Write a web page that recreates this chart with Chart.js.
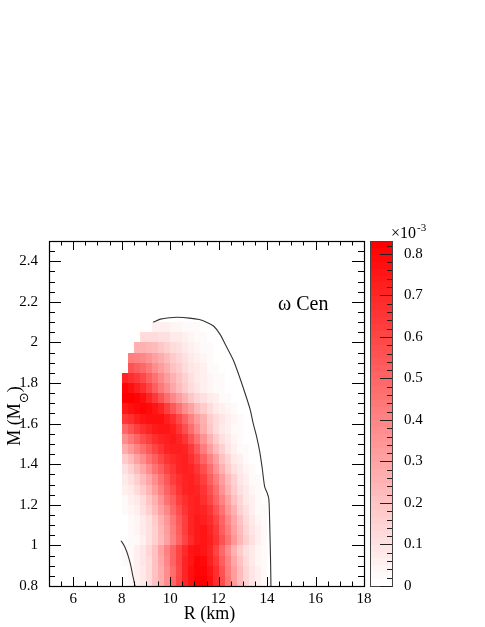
<!DOCTYPE html>
<html>
<head>
<meta charset="utf-8">
<script src="https://cdn.jsdelivr.net/npm/chart.js@4.4.0/dist/chart.umd.min.js"></script>
<style>
  html, body { margin: 0; padding: 0; background: #fff; }
  #caixa { width: 485px; height: 627px; position: relative; }
</style>
</head>
<body>
<div id="caixa"><canvas id="grafico"></canvas></div>
<script>
// bordas dos bins do histograma
const binsR = [8, 8.25, 8.5, 8.75, 9, 9.25, 9.5, 9.75, 10, 10.25, 10.5, 10.75, 11, 11.25, 11.5, 11.75, 12, 12.25, 12.5, 12.75, 13, 13.25, 13.5, 13.75, 14];
const binsM = [0.8, 0.85, 0.9, 0.95, 1.0, 1.05, 1.1, 1.15, 1.2, 1.25, 1.3, 1.35, 1.4, 1.45, 1.5, 1.55, 1.6, 1.65, 1.7, 1.75, 1.8, 1.85, 1.9, 1.95, 2.0, 2.05, 2.1];

// probabilidade (x 1e-5), uma linha por bin de M, de baixo pra cima
const densidade = [
  [1,3,5,8,13,20,28,38,49,60,71,78,82,82,77,68,57,44,32,22,14,9,5,3],
  [1,3,5,8,13,20,28,38,48,59,70,77,81,81,76,67,56,43,32,22,14,9,5,3],
  [2,3,5,9,13,20,29,39,50,60,70,76,80,79,73,64,52,40,29,20,13,8,4,2],
  [2,3,6,9,14,21,30,40,51,61,69,76,78,76,70,60,49,37,26,18,11,7,4,2],
  [1,2,3,6,10,15,22,31,41,51,61,69,74,76,73,66,56,45,34,24,16,10,6,3],
  [1,2,4,7,11,16,24,32,42,53,62,70,74,75,71,64,53,42,31,22,14,9,5,3],
  [1,2,4,7,11,17,25,34,44,54,63,70,74,73,69,61,51,39,29,20,13,8,4,2],
  [2,4,6,10,16,22,30,39,49,58,66,71,73,71,65,56,45,34,25,16,10,6,3,2],
  [3,5,8,13,19,26,35,45,53,62,68,71,72,68,61,51,40,30,21,14,8,5,3,1],
  [5,8,12,17,24,32,41,50,58,65,70,72,71,66,57,47,36,26,18,11,7,4,2,1],
  [7,11,16,22,29,37,46,54,62,67,71,72,69,63,53,42,32,22,15,9,5,3,2,1],
  [11,16,22,29,37,45,53,60,66,70,72,71,66,57,47,36,26,18,11,7,4,2,1,0],
  [17,23,30,38,46,53,59,65,69,71,72,68,61,51,40,30,21,14,8,5,3,1,1,0],
  [28,34,41,48,54,61,66,70,72,73,70,64,54,43,32,23,15,9,5,3,2,1,0,0],
  [38,44,51,57,63,67,71,73,74,71,65,56,46,36,26,18,11,7,4,2,1,1,0,0],
  [49,55,62,67,71,74,76,76,73,66,57,47,37,27,19,13,8,5,3,2,1,0,0,0],
  [64,68,72,75,77,78,77,73,67,59,50,41,32,25,18,13,9,6,4,2,1,1,0,0],
  [74,77,79,80,79,76,70,63,54,46,38,30,23,17,12,8,6,4,2,1,1,0,0,0],
  [83,83,81,77,71,64,56,48,39,32,25,19,14,10,7,5,3,2,1,1,0,0,0,0],
  [80,78,73,68,60,53,44,37,29,23,17,13,9,6,4,3,2,1,1,0,0,0,0,0],
  [70,68,64,59,53,46,39,32,26,20,15,11,8,6,4,3,2,1,1,0,0,0,0,0],
  [0,56,53,49,44,38,32,27,21,17,13,9,7,5,3,2,1,1,0,0,0,0,0,0],
  [0,42,41,39,35,31,27,22,18,14,11,8,5,4,2,1,1,0,0,0,0,0,0,0],
  [0,0,26,25,24,22,19,16,13,10,8,6,4,3,2,1,0,0,0,0,0,0,0,0],
  [0,0,0,13,13,12,11,10,8,7,5,4,3,2,1,0,0,0,0,0,0,0,0,0],
  [0,0,0,0,0,5,5,5,4,4,3,3,2,1,1,0,0,0,0,0,0,0,0,0],
];

// contornos
const contornoR = [9.3, 9.6, 10.0, 10.3, 10.8, 11.2, 11.5, 11.8, 12.06, 12.3, 12.6, 12.85, 13.09, 13.3, 13.43, 13.58, 13.7, 13.8, 13.9, 14.0, 14.07, 14.1, 14.12, 14.14, 14.16];
const contornoM = [2.1, 2.115, 2.122, 2.124, 2.12, 2.113, 2.1, 2.08, 2.04, 1.985, 1.915, 1.835, 1.75, 1.67, 1.6, 1.53, 1.46, 1.38, 1.29, 1.26, 1.23, 1.15, 1.05, 0.95, 0.8];
const contorno2R = [7.97, 8.1, 8.21, 8.3, 8.37, 8.46, 8.55];
const contorno2M = [1.023, 1.0, 0.969, 0.935, 0.903, 0.85, 0.8];

const ticksR = [6, 8, 10, 12, 14, 16, 18];
const ticksM = [0.8, 1, 1.2, 1.4, 1.6, 1.8, 2, 2.2, 2.4];
const ticksZ = [0, 0.1, 0.2, 0.3, 0.4, 0.5, 0.6, 0.7, 0.8];

const xMin = 5, xMax = 18, yMin = 0.8, yMax = 2.5, zMax = 0.831;
const NIVEIS = 50;
const FONTE = "'Liberation Serif', 'Times New Roman', serif";

function corDoNivel(k) {
  const c = Math.round(255 * (1 - k / (NIVEIS - 1)));
  return "rgb(255," + c + "," + c + ")";
}
function nivelDe(z) {
  return Math.min(NIVEIS - 1, Math.floor(z / zMax * NIVEIS));
}

const mapaCalor = {
  id: "mapaCalor",
  beforeDatasetsDraw(chart) {
    const { ctx, chartArea, scales } = chart;
    ctx.save();
    ctx.beginPath();
    ctx.rect(chartArea.left, chartArea.top, chartArea.width, chartArea.height);
    ctx.clip();
    for (let j = 0; j < densidade.length; j++) {
      const yA = Math.round(scales.y.getPixelForValue(binsM[j]));
      const yB = Math.round(scales.y.getPixelForValue(binsM[j + 1]));
      densidade[j].forEach((v, i) => {
        if (v <= 0) return;
        const xA = Math.round(scales.x.getPixelForValue(binsR[i]));
        const xB = Math.round(scales.x.getPixelForValue(binsR[i + 1]));
        ctx.fillStyle = corDoNivel(nivelDe(v / 100));
        ctx.fillRect(xA, yB, xB - xA, yA - yB);
      });
    }
    ctx.restore();
  },
  afterDatasetsDraw(chart) {
    const { ctx, chartArea: a, scales } = chart;
    ctx.save();
    // escala de cores
    const zx0 = 370, zx1 = 392;
    for (let k = 0; k < NIVEIS; k++) {
      const y0 = Math.round(scales.z.getPixelForValue(k * zMax / NIVEIS));
      const y1 = Math.round(scales.z.getPixelForValue((k + 1) * zMax / NIVEIS));
      ctx.fillStyle = corDoNivel(k);
      ctx.fillRect(zx0, y1, zx1 - zx0, y0 - y1);
    }
    ctx.strokeStyle = "#444";
    ctx.lineWidth = 1;
    ctx.strokeRect(zx0 + 0.5, a.top + 0.5, zx1 - zx0, a.bottom - a.top);
    ctx.strokeStyle = "#222";
    ctx.beginPath();
    for (let z = 0; z <= zMax + 1e-9; z += 0.02) {
      const y = Math.round(scales.z.getPixelForValue(z)) + 0.5;
      const maior = Math.abs(z * 10 - Math.round(z * 10)) < 1e-6;
      ctx.moveTo(zx1, y);
      ctx.lineTo(zx1 - (maior ? 12 : 5), y);
    }
    ctx.stroke();

    // moldura e marcas
    ctx.strokeStyle = "#000";
    ctx.beginPath();
    for (let r = 5.5; r < xMax; r += 0.5) {
      const x = Math.round(scales.x.getPixelForValue(r)) + 0.5;
      const L = (r % 2 === 0) ? 9 : 4.5;
      ctx.moveTo(x, a.bottom); ctx.lineTo(x, a.bottom - L);
      ctx.moveTo(x, a.top); ctx.lineTo(x, a.top + L);
    }
    for (let m = 0.85; m < yMax - 1e-9; m += 0.05) {
      const y = Math.round(scales.y.getPixelForValue(m)) + 0.5;
      const maior = Math.abs(m * 5 - Math.round(m * 5)) < 1e-6;
      const L = maior ? 12 : 6;
      ctx.moveTo(a.left, y); ctx.lineTo(a.left + L, y);
      ctx.moveTo(a.right, y); ctx.lineTo(a.right - L, y);
    }
    ctx.stroke();
    ctx.lineWidth = 1.2;
    ctx.strokeRect(a.left + 0.5, a.top + 0.5, a.right - a.left, a.bottom - a.top);

    // textos
    ctx.fillStyle = "#000";
    ctx.textBaseline = "alphabetic";
    ctx.font = "18px " + FONTE;
    ctx.textAlign = "center";
    ctx.fillText("R (km)", (a.left + a.right) / 2 + 3, 619);

    ctx.textAlign = "left";
    ctx.font = "20px " + FONTE;
    ctx.fillText("\u03C9 Cen", 278, 310);

    ctx.font = "16px " + FONTE;
    ctx.fillText("\u00D710", 391, 238);
    const w10 = ctx.measureText("\u00D710").width;
    ctx.font = "11px " + FONTE;
    ctx.fillText("-3", 391 + w10 + 1, 231);

    // titulo do eixo y com M sol subscrito
    ctx.save();
    ctx.translate(20, 416);
    ctx.rotate(-Math.PI / 2);
    ctx.font = "18px " + FONTE;
    const w1 = ctx.measureText("M (M").width;
    const w3 = ctx.measureText(")").width;
    ctx.font = "13px 'DejaVu Sans'";
    const w2 = ctx.measureText("\u2299").width;
    const x0 = -(w1 + w2 + w3) / 2;
    ctx.font = "18px " + FONTE;
    ctx.fillText("M (M", x0, 0);
    ctx.font = "13px 'DejaVu Sans'";
    ctx.fillText("\u2299", x0 + w1, 8);
    ctx.font = "18px " + FONTE;
    ctx.fillText(")", x0 + w1 + w2, 0);
    ctx.restore();

    ctx.restore();
  }
};

const pontos = (xs, ys) => xs.map((x, i) => ({ x: x, y: ys[i] }));

const fonteTicks = { family: FONTE, size: 15 };

let grafico = new Chart(document.querySelector("#grafico"), {
  type: "scatter",
  data: {
    datasets: [
      {
        label: "contorno",
        data: pontos(contornoR, contornoM),
        showLine: true,
        borderColor: "#333",
        borderWidth: 1.1,
        pointRadius: 0,
        tension: 0.3,
      },
      {
        label: "contorno2",
        data: pontos(contorno2R, contorno2M),
        showLine: true,
        borderColor: "#333",
        borderWidth: 1.1,
        pointRadius: 0,
        tension: 0.3,
      },
    ],
  },
  options: {
    responsive: true,
    maintainAspectRatio: false,
    animation: false,
    layout: { padding: { top: 241, left: 0, right: 0, bottom: 0 } },
    plugins: {
      legend: { display: false },
      tooltip: { enabled: false },
    },
    scales: {
      x: {
        type: "linear",
        position: "bottom",
        min: xMin,
        max: xMax,
        grid: { display: false },
        border: { display: false },
        afterBuildTicks: (eixo) => { eixo.ticks = ticksR.map(v => ({ value: v })); },
        afterFit: (eixo) => { eixo.height = 41; },
        ticks: { font: fonteTicks, color: "#000", padding: -4, maxRotation: 0, autoSkip: false, callback: v => String(v) },
      },
      y: {
        type: "linear",
        position: "left",
        min: yMin,
        max: yMax,
        grid: { display: false },
        border: { display: false },
        afterBuildTicks: (eixo) => { eixo.ticks = ticksM.map(v => ({ value: v })); },
        afterFit: (eixo) => { eixo.width = 49; },
        ticks: { font: fonteTicks, color: "#000", padding: 3, autoSkip: false, callback: v => String(v) },
      },
      z: {
        type: "linear",
        position: "right",
        min: 0,
        max: zMax,
        grid: { display: false },
        border: { display: false },
        afterBuildTicks: (eixo) => { eixo.ticks = ticksZ.map(v => ({ value: v })); },
        afterFit: (eixo) => { eixo.width = 121; },
        ticks: { font: fonteTicks, color: "#000", padding: 32, autoSkip: false, callback: v => String(v) },
      },
    },
  },
  plugins: [mapaCalor],
});
</script>
</body>
</html>
